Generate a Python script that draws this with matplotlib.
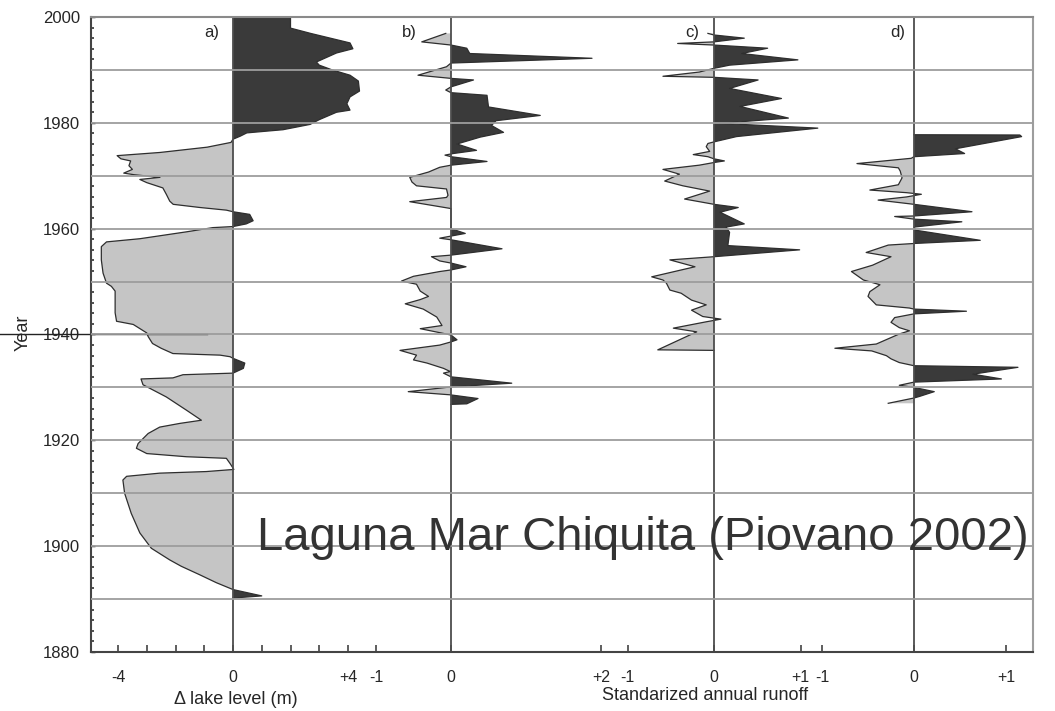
import numpy as np
import matplotlib.pyplot as plt

plt.rcParams["font.family"] = ["Liberation Sans", "DejaVu Sans"]

# a) lake level anomaly (m)
years_a = [2000.0, 1997.9, 1996.9, 1995.1, 1994.0, 1993.2, 1991.5, 1990.9, 1990.0, 1989.0,
           1987.9, 1986.0, 1984.9, 1983.6, 1982.4, 1982.0, 1980.6, 1979.7, 1978.7, 1978.1,
           1977.5, 1976.9, 1976.3, 1975.4, 1974.4, 1973.8, 1973.2, 1972.8, 1971.9, 1971.2,
           1970.5, 1970.2, 1969.7, 1969.3, 1968.7, 1967.7, 1966.5, 1965.2, 1964.6, 1964.0,
           1963.5, 1963.2, 1962.7, 1961.5, 1960.9, 1960.4, 1960.2, 1959.4, 1958.1, 1957.5,
           1956.6, 1954.1, 1951.6, 1949.7, 1949.1, 1948.2, 1944.1, 1942.5, 1941.9, 1940.3,
           1939.6, 1938.3, 1937.4, 1936.4, 1936.1, 1935.8, 1935.5, 1934.6, 1933.6, 1932.7,
           1932.4, 1931.8, 1931.6, 1930.5, 1928.2, 1925.7, 1923.8, 1923.2, 1922.5, 1921.3,
           1919.4, 1918.5, 1917.5, 1916.9, 1916.6, 1915.6, 1914.5, 1914.1, 1913.8, 1913.2,
           1912.5, 1910.0, 1906.2, 1902.5, 1899.6, 1897.4, 1896.2, 1894.6, 1893.1, 1891.8,
           1890.6, 1890.2]
level_a = [2.0, 2.0, 2.7, 4.07, 4.17, 3.6, 2.9, 3.0, 3.45, 4.07,
           4.36, 4.4, 4.07, 3.96, 4.07, 3.6, 3.0, 2.68, 1.74, 0.48,
           0.26, 0.0, -0.07, -0.9, -2.54, -4.03, -3.9, -3.56, -3.62, -3.5,
           -3.8, -3.45, -2.54, -3.24, -3.0, -2.44, -2.32, -2.2, -2.08, -1.15,
           -0.23, 0.0, 0.58, 0.7, 0.46, 0.0, -0.7, -1.62, -3.24, -4.4,
           -4.58, -4.58, -4.52, -4.4, -4.23, -4.1, -4.1, -4.05, -3.47, -3.0,
           -2.95, -2.8, -2.5, -2.09, -0.45, -0.1, 0.0, 0.41, 0.36, 0.0,
           -1.74, -2.09, -3.2, -3.13, -2.32, -1.62, -1.1, -1.85, -2.55, -2.95,
           -3.3, -3.36, -3.0, -1.62, -0.23, -0.1, 0.03, -0.93, -2.55, -3.7,
           -3.83, -3.77, -3.54, -3.24, -2.84, -2.2, -1.8, -1.16, -0.58, 0.0,
           1.0, 0.0]

# b) standardized annual runoff
years_b = [1996.9, 1995.3, 1994.7, 1994.1, 1993.1, 1992.2, 1991.3, 1990.6, 1989.0, 1988.4,
           1988.1, 1986.8, 1986.2, 1985.7, 1985.2, 1983.0, 1981.4, 1980.4, 1979.5, 1978.2,
           1977.3, 1976.0, 1974.8, 1974.2, 1973.9, 1973.6, 1972.7, 1972.0, 1971.6, 1970.7,
           1969.7, 1968.8, 1968.1, 1967.5, 1966.3, 1965.9, 1965.1, 1963.8, 1960.0, 1959.1,
           1958.6, 1958.2, 1957.9, 1956.2, 1955.0, 1954.7, 1953.9, 1953.5, 1952.8, 1952.2,
           1951.9, 1951.0, 1950.1, 1949.5, 1948.2, 1947.2, 1946.6, 1945.8, 1944.8, 1943.3,
           1941.7, 1941.1, 1940.2, 1939.9, 1939.0, 1938.6, 1938.0, 1937.0, 1936.1, 1935.2,
           1934.6, 1933.6, 1933.0, 1932.7, 1932.0, 1930.8, 1930.1, 1929.2, 1928.6, 1927.9,
           1926.9, 1926.8]
runoff_b = [-0.07, -0.39, 0.0, 0.21, 0.25, 1.88, 0.0, -0.06, -0.44, 0.0,
            0.3, 0.0, -0.07, 0.0, 0.48, 0.5, 1.19, 0.6, 0.54, 0.7,
            0.39, 0.08, 0.34, 0.03, -0.08, 0.0, 0.48, 0.0, -0.15, -0.3,
            -0.55, -0.52, -0.46, -0.06, -0.04, -0.06, -0.55, 0.0, 0.0, 0.19,
            0.0, -0.15, 0.0, 0.68, 0.0, -0.26, -0.15, 0.0, 0.2, 0.0,
            -0.15, -0.5, -0.66, -0.46, -0.41, -0.3, -0.41, -0.61, -0.37, -0.19,
            -0.12, -0.41, -0.1, 0.0, 0.08, 0.0, -0.15, -0.68, -0.46, -0.5,
            -0.32, -0.1, -0.01, -0.1, 0.0, 0.81, 0.0, -0.57, -0.01, 0.36,
            0.21, 0.0]

# c) standardized annual runoff
years_c = [1996.9, 1996.6, 1996.0, 1995.3, 1995.0, 1994.7, 1994.1, 1993.1, 1991.9, 1990.9,
           1990.3, 1989.6, 1988.8, 1988.6, 1988.1, 1986.5, 1984.6, 1983.1, 1980.9, 1979.9,
           1979.0, 1977.4, 1976.4, 1976.1, 1975.5, 1974.6, 1974.0, 1973.6, 1973.2, 1972.8,
           1972.5, 1972.0, 1971.2, 1970.3, 1969.0, 1968.1, 1967.1, 1965.6, 1964.6, 1964.0,
           1963.1, 1960.9, 1960.3, 1959.3, 1956.8, 1956.0, 1954.7, 1954.1, 1952.8, 1950.9,
           1950.3, 1949.7, 1948.4, 1947.8, 1946.5, 1945.6, 1944.6, 1943.4, 1942.9, 1942.4,
           1941.2, 1940.5, 1939.6, 1937.1, 1937.0]
runoff_c = [-0.07, 0.0, 0.35, 0.0, -0.42, 0.0, 0.62, 0.32, 0.97, 0.18,
            0.0, -0.17, -0.59, 0.0, 0.51, 0.18, 0.78, 0.3, 0.86, 0.07,
            1.2, 0.26, 0.0, -0.07, -0.09, -0.05, -0.24, -0.07, 0.0, 0.12,
            0.0, -0.17, -0.59, -0.4, -0.57, -0.36, -0.05, -0.34, 0.0, 0.28,
            0.07, 0.35, 0.14, 0.18, 0.16, 0.99, 0.0, -0.51, -0.22, -0.72,
            -0.59, -0.55, -0.51, -0.38, -0.26, -0.09, -0.26, -0.13, 0.08, -0.09,
            -0.47, -0.2, -0.32, -0.65, 0.0]

# d) standardized annual runoff
years_d = [1977.75, 1977.7, 1977.4, 1975.1, 1974.2, 1973.6, 1973.3, 1972.3, 1971.5, 1970.9,
           1969.6, 1968.3, 1967.3, 1966.8, 1966.5, 1966.0, 1965.4, 1964.6, 1963.2, 1962.4,
           1962.3, 1961.8, 1961.3, 1960.3, 1959.7, 1957.8, 1957.2, 1956.9, 1955.5, 1954.7,
           1953.1, 1951.9, 1950.3, 1949.4, 1948.1, 1947.2, 1945.6, 1945.0, 1944.8, 1944.4,
           1943.9, 1943.2, 1942.3, 1941.3, 1940.7, 1940.1, 1938.2, 1937.4, 1936.9, 1936.0,
           1935.4, 1934.7, 1934.1, 1933.8, 1932.5, 1931.6, 1931.0, 1930.4, 1930.0, 1929.2,
           1928.3, 1928.0, 1927.0]
runoff_d = [0.0, 1.15, 1.17, 0.45, 0.55, 0.0, -0.03, -0.62, -0.17, -0.15,
            -0.13, -0.17, -0.48, -0.08, 0.08, -0.08, -0.39, 0.0, 0.63, 0.0,
            -0.21, 0.0, 0.52, 0.0, 0.02, 0.72, 0.0, -0.28, -0.52, -0.25,
            -0.45, -0.68, -0.55, -0.37, -0.48, -0.5, -0.41, -0.05, 0.0, 0.57,
            0.0, -0.21, -0.25, -0.16, -0.05, -0.16, -0.41, -0.86, -0.46, -0.3,
            -0.25, -0.16, 0.0, 1.13, 0.64, 0.95, 0.0, -0.16, 0.0, 0.22,
            0.06, 0.0, -0.28]

# axis pixel frame and per-panel zero position / pixels per unit
W, H = 1055, 711
X0, X1, Y_TOP, Y_BOT = 91, 1033, 17, 652
rect = [X0 / W, 1 - Y_BOT / H, (X1 - X0) / W, (Y_BOT - Y_TOP) / H]

panels = [
    (years_a, level_a, 233, 28.75, list(range(-4, 5)), {-4: "-4", 0: "0", 4: "+4"}, "a)", -0.73),
    (years_b, runoff_b, 451, 75.0, [-1, 0, 2], {-1: "-1", 0: "0", 2: "+2"}, "b)", -0.55),
    (years_c, runoff_c, 714, 86.5, [-1, 0, 1], {-1: "-1", 0: "0", 1: "+1"}, "c)", -0.25),
    (years_d, runoff_d, 914, 92.0, [-1, 0, 1], {-1: "-1", 0: "0", 1: "+1"}, "d)", -0.18),
]

dark = "#3a3a3a"
light = "#c5c5c5"
edge = "#2e2e2e"
txt = "#262626"

fig = plt.figure(figsize=(W / 100, H / 100), dpi=100)

for yrs, vals, zero_px, ppu, ticks, labels, letter, lx in panels:
    yrs = np.array(yrs)
    vals = np.array(vals)
    axp = fig.add_axes(rect, zorder=1)
    axp.patch.set_visible(False)
    for s in axp.spines.values():
        s.set_visible(False)
    axp.set_xlim((X0 - zero_px) / ppu, (X1 - zero_px) / ppu)
    axp.set_ylim(1880, 2000)
    axp.fill_betweenx(yrs, 0, vals, where=vals >= 0, interpolate=True,
                      color=dark, lw=0)
    axp.fill_betweenx(yrs, 0, vals, where=vals <= 0, interpolate=True,
                      color=light, lw=0)
    axp.plot(vals, yrs, color=edge, lw=0.9)
    axp.axvline(0, color="#4d4d4d", lw=1.3, zorder=4)
    axp.set_yticks([])
    axp.set_xticks(ticks)
    axp.set_xticklabels([labels.get(t, "") for t in ticks])
    axp.tick_params(axis="x", direction="in", length=5, width=1.1, color="#333333",
                    pad=13, labelsize=11.5, labelcolor=txt)
    axp.text(lx, 1997.0, letter, ha="center", va="center", fontsize=12, color=txt)

ax = fig.add_axes(rect, zorder=2)
ax.patch.set_visible(False)
ax.set_xlim(0, 1)
ax.set_ylim(1880, 2000)
ax.set_xticks([])
ax.set_yticks(np.arange(1880, 2001, 20))
ax.set_yticks([y for y in range(1882, 2000, 2) if y % 10 != 0], minor=True)
ax.tick_params(axis="y", which="major", direction="in", length=3, width=1,
               labelsize=12, labelcolor=txt, pad=8)
ax.tick_params(axis="y", which="minor", direction="in", length=2.5, width=1.2,
               color="#333333")
for y in range(1890, 2000, 10):
    ax.axhline(y, color="#9d9d9d", lw=1.3, zorder=3)
ax.spines["left"].set_color("#444444")
ax.spines["left"].set_linewidth(1.5)
ax.spines["bottom"].set_color("#444444")
ax.spines["bottom"].set_linewidth(1.5)
ax.spines["top"].set_color("#8a8a8a")
ax.spines["top"].set_linewidth(1.5)
ax.spines["right"].set_color("#9d9d9d")
ax.spines["right"].set_linewidth(1.5)

# stray line through the y label at 1940
ax.plot([(0 - X0) / (X1 - X0), (207 - X0) / (X1 - X0)], [1940, 1940],
        transform=ax.get_yaxis_transform(), color="#222222", lw=1, clip_on=False)

fig.text(23 / W, 1 - 333 / H, "Year", rotation=90, ha="center", va="center",
         fontsize=13, color=txt)
fig.text(236 / W, 1 - 699 / H, "\u0394 lake level (m)", ha="center", va="center",
         fontsize=13, color=txt)
fig.text(705 / W, 1 - 696 / H, "Standarized annual runoff", ha="center", va="center",
         fontsize=13, color=txt)
fig.text(257 / W, 1 - 550 / H, "Laguna Mar Chiquita (Piovano 2002)", ha="left",
         va="baseline", fontsize=34, color="#333333", zorder=10)

fig.savefig("out.png", dpi=100)
